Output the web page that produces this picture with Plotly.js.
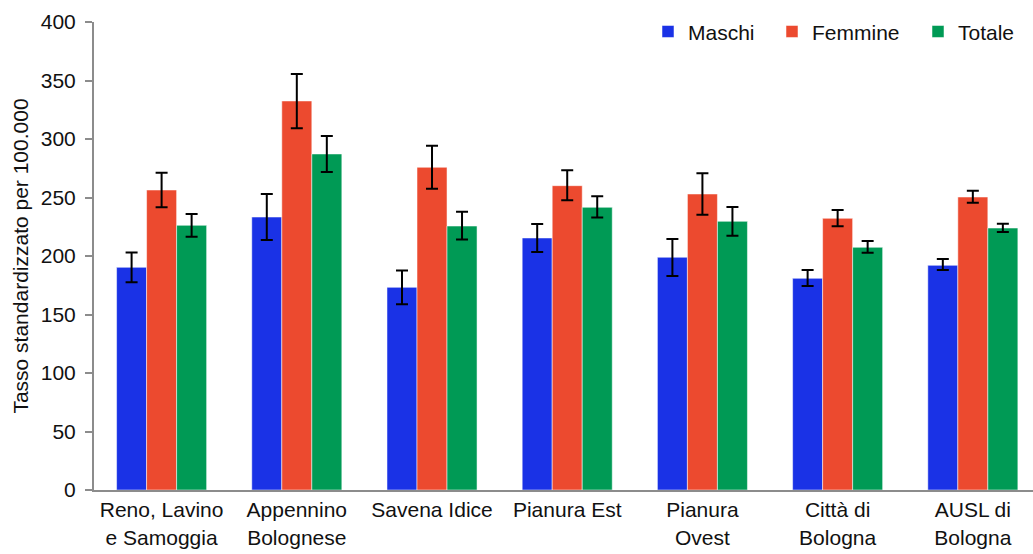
<!DOCTYPE html>
<html>
<head>
<meta charset="utf-8">
<script src="https://cdn.plot.ly/plotly-3.0.1.min.js"></script>
<style>html,body{margin:0;padding:0;background:#fff;}#chart{width:1033px;height:554px;}</style>
</head>
<body>
<div id="chart"></div>
<script>
const categories = ["Reno, Lavino<br>e Samoggia", "Appennino<br>Bolognese", "Savena Idice", "Pianura Est", "Pianura<br>Ovest", "Città di<br>Bologna", "AUSL di<br>Bologna"];

const maschi      = [190.3, 233.3, 173.2, 215.4, 198.9, 180.9, 192.0];
const maschiHigh  = [203.0, 253.0, 187.7, 227.4, 214.5, 188.0, 197.4];
const maschiLow   = [177.5, 213.7, 158.7, 203.4, 182.9, 174.4, 188.0];

const femmine     = [256.4, 332.5, 275.8, 260.1, 253.0, 232.2, 250.4];
const femmineHigh = [271.2, 355.6, 294.3, 273.2, 270.7, 239.3, 255.8];
const femmineLow  = [241.6, 309.1, 257.5, 247.6, 235.3, 225.4, 245.6];

const totale      = [226.2, 287.2, 225.6, 241.6, 229.6, 207.4, 223.9];
const totaleHigh  = [235.9, 302.6, 237.9, 251.0, 241.9, 212.8, 227.6];
const totaleLow   = [216.5, 271.8, 214.2, 233.0, 217.4, 202.8, 220.5];

const yTicks = [0, 50, 100, 150, 200, 250, 300, 350, 400];

function mk(name, vals, hi, lo, color, lw) {
  return {
    type: 'bar', name: name, x: categories, y: vals,
    legendwidth: lw,
    marker: {color: color, line: {color: 'rgba(255,255,255,0.5)', width: 1}},
    error_y: {
      type: 'data', symmetric: false,
      array: hi.map((h, i) => h - vals[i]),
      arrayminus: lo.map((l, i) => vals[i] - l),
      color: '#000', thickness: 2, width: 6
    }
  };
}

const data = [
  mk('Maschi', maschi, maschiHigh, maschiLow, '#1A32E6', 79),
  mk('Femmine', femmine, femmineHigh, femmineLow, '#EC4A2F', 101),
  mk('Totale', totale, totaleHigh, totaleLow, '#009A55', 70)
];

const fam = 'Liberation Sans, Arial, sans-serif';
const txt = '#111';

const layout = {
  width: 1033, height: 554,
  margin: {l: 94, r: 0, t: 22, b: 64},
  paper_bgcolor: '#fff', plot_bgcolor: '#fff',
  font: {family: fam, size: 21, color: txt},
  barmode: 'group', bargap: 0.334, bargroupgap: 0,
  showlegend: true,
  legend: {orientation: 'h', x: 0.590, y: 0.979, xanchor: 'left', yanchor: 'middle',
           font: {family: fam, size: 21, color: txt}, bgcolor: 'rgba(0,0,0,0)',
           itemwidth: 30, traceorder: 'normal'},
  xaxis: {
    type: 'category', range: [-0.5, 6.445],
    showline: true, linecolor: '#8c8c8c', linewidth: 2,
    ticks: '', showgrid: false, zeroline: false,
    tickfont: {family: fam, size: 21, color: txt}
  },
  yaxis: {
    range: [0, 400], tickvals: yTicks, ticktext: yTicks.map(String),
    showline: true, linecolor: '#8c8c8c', linewidth: 2,
    ticks: 'outside', ticklen: 7, tickwidth: 2, tickcolor: '#8c8c8c',
    ticklabelstandoff: 5,
    showgrid: false, zeroline: false,
    tickfont: {family: fam, size: 21, color: txt},
    title: {text: 'Tasso standardizzato per 100.000', font: {family: fam, size: 21, color: txt}, standoff: 6}
  }
};

Plotly.newPlot('chart', data, layout, {displayModeBar: false, staticPlot: true});
</script>
</body>
</html>
